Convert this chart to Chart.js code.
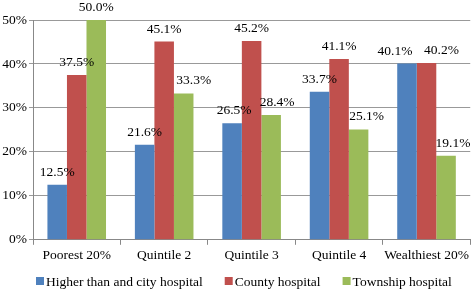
<!DOCTYPE html>
<html><head><meta charset="utf-8">
<script src="https://cdn.jsdelivr.net/npm/chart.js@4/dist/chart.umd.min.js"></script>
<style>html,body{margin:0;padding:0;background:#fff}#w{width:472px;height:290px}</style>
</head><body><div id="w"><canvas id="c"></canvas></div>
<script>
const categories = ["Poorest 20%","Quintile 2","Quintile 3","Quintile 4","Wealthiest 20%"];
const seriesNames = ["Higher than and city hospital","County hospital","Township hospital"];
const higherCity = [12.5,21.6,26.5,33.7,40.1];
const county = [37.5,45.1,45.2,41.1,40.2];
const township = [50.0,33.3,28.4,25.1,19.1];
const yTicks = [0,10,20,30,40,50];
const colors = ["#4F81BD","#C0504D","#9BBB59"];
const FONT = "'Liberation Serif','Times New Roman',serif";
const FS = 13.5;

// horizontal nudges of value labels (style only), per series
const labelNudge = [[0,0,2,0,-12],[0,0,0,0,15],[0,10,6,8,7]];

const labelPlugin = {
  id:'lbl',
  afterDatasetsDraw(chart){
    const ctx = chart.ctx;
    ctx.save();
    ctx.font = FS + "px " + FONT;
    ctx.fillStyle = "#000";
    ctx.textAlign = "center";
    ctx.textBaseline = "alphabetic";
    chart.data.datasets.forEach((ds,i)=>{
      chart.getDatasetMeta(i).data.forEach((bar,j)=>{
        ctx.fillText(ds.data[j].toFixed(1)+"%", bar.x + labelNudge[i][j], bar.y-9);
      });
    });
    ctx.restore();
  }
};

// bottom legend drawn from the datasets
const legendPlugin = {
  id:'blegend',
  afterDraw(chart){
    const ctx = chart.ctx;
    ctx.save();
    ctx.font = FS + "px " + FONT;
    ctx.textBaseline = "middle";
    ctx.textAlign = "left";
    const y = 281;
    let x = 36;
    chart.data.datasets.forEach(ds=>{
      ctx.fillStyle = ds.backgroundColor;
      ctx.fillRect(x, y-4, 8, 8);
      ctx.fillStyle = "#000";
      ctx.fillText(ds.label, x+10, y+1);
      x += 10 + ctx.measureText(ds.label).width + 22;
    });
    ctx.restore();
  }
};

new Chart(document.getElementById('c'),{
  type:'bar',
  data:{labels:categories,datasets:[
    {label:seriesNames[0],data:higherCity,backgroundColor:colors[0]},
    {label:seriesNames[1],data:county,backgroundColor:colors[1]},
    {label:seriesNames[2],data:township,backgroundColor:colors[2]}
  ]},
  options:{
    responsive:true,maintainAspectRatio:false,animation:false,
    devicePixelRatio:1,
    layout:{padding:{top:20,right:1,left:0,bottom:23}},
    datasets:{bar:{categoryPercentage:0.67,barPercentage:1}},
    plugins:{
      legend:{display:false},
      tooltip:{enabled:false}
    },
    scales:{
      x:{grid:{display:true,drawOnChartArea:false,color:'#888',tickLength:5,offset:true},
         border:{color:'#888'},
         ticks:{color:'#000',font:{family:FONT,size:FS},padding:3,maxRotation:0,autoSkip:false}},
      y:{min:0,max:50,
         afterBuildTicks(s){s.ticks=yTicks.map(v=>({value:v}));},
         afterFit(s){s.width=33;},
         grid:{color:'#999',tickLength:4},
         border:{color:'#888'},
         ticks:{color:'#000',font:{family:FONT,size:FS},padding:2,callback:v=>v+"%"}}
    }
  },
  plugins:[labelPlugin, legendPlugin]
});
</script></body></html>
